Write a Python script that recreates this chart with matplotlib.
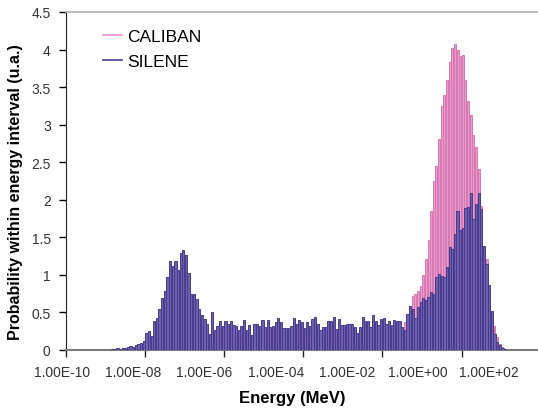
import matplotlib
matplotlib.use("Agg")
from matplotlib import pyplot as plt
from matplotlib.lines import Line2D
import numpy as np

plt.rcParams['font.family'] = ['Liberation Sans', 'DejaVu Sans']

# energy bins: 15 per decade starting at 1e-10 MeV (category axis)
n_bins = 179

silene_start = 17
silene = [0.01, 0.01, 0.02, 0.01, 0.03, 0.03, 0.04, 0.05, 0.04, 0.06,
          0.08, 0.09, 0.12, 0.22, 0.25, 0.18, 0.39, 0.43, 0.54, 0.69,
          0.78, 0.97, 1.18, 1.12, 1.18, 1.07, 1.29, 1.33, 1.26, 1.02,
          0.75, 0.75, 0.68, 0.55, 0.46, 0.41, 0.35, 0.21, 0.50, 0.26,
          0.32, 0.38, 0.32, 0.38, 0.35, 0.38, 0.33, 0.32, 0.26, 0.32,
          0.40, 0.26, 0.33, 0.20, 0.35, 0.35, 0.32, 0.40, 0.30, 0.40,
          0.31, 0.32, 0.37, 0.42, 0.37, 0.29, 0.29, 0.29, 0.32, 0.42,
          0.35, 0.40, 0.37, 0.29, 0.37, 0.32, 0.41, 0.44, 0.35, 0.26,
          0.31, 0.31, 0.38, 0.38, 0.44, 0.28, 0.41, 0.33, 0.33, 0.35,
          0.35, 0.35, 0.30, 0.23, 0.31, 0.44, 0.39, 0.39, 0.31, 0.47,
          0.38, 0.33, 0.41, 0.42, 0.35, 0.38, 0.33, 0.40, 0.39, 0.39,
          0.30, 0.26, 0.48, 0.58, 0.55, 0.42, 0.57, 0.64, 0.69, 0.66,
          0.70, 0.77, 0.74, 0.97, 1.01, 0.98, 0.97, 1.11, 1.37, 1.35,
          1.54, 1.85, 1.60, 1.62, 1.89, 1.90, 2.09, 1.74, 1.94, 2.09,
          1.88, 1.39, 1.15, 0.86, 0.52, 0.21, 0.10, 0.07, 0.03, 0.01]

caliban_start = 120
caliban = [0.05, 0.07, 0.09, 0.12, 0.16, 0.20, 0.25, 0.30, 0.37, 0.45,
           0.55, 0.72, 0.75, 0.78, 0.85, 1.00, 1.21, 1.46, 1.85, 2.25,
           2.45, 2.81, 3.25, 3.39, 3.60, 3.84, 4.02, 4.07, 4.00, 3.92,
           3.93, 3.59, 3.32, 3.13, 2.86, 2.70, 2.41, 1.92, 1.39, 1.21,
           0.68, 0.50, 0.32, 0.17, 0.08, 0.04]

xlabels = ['1.00E-10', '1.00E-08', '1.00E-06', '1.00E-04',
           '1.00E-02', '1.00E+00', '1.00E+02']

x_sil = silene_start + np.arange(len(silene))
x_cal = caliban_start + np.arange(len(caliban))

fig = plt.figure(figsize=(5.38, 4.10), dpi=100)
ax = fig.add_axes([66/538, 59/410, 472/538, 338/410])

ax.bar(x_cal, caliban, width=0.75, color='#e99bcb', edgecolor='#d877b3',
       linewidth=0.7, zorder=2)
ax.bar(x_sil, silene, width=0.85, color='#6f60ae', edgecolor='#483b8c',
       linewidth=0.7, zorder=3)

ax.set_xlim(-0.5, n_bins - 0.5)
ax.set_ylim(0, 4.5)

yt = np.arange(0, 4.51, 0.5)
ax.set_yticks(yt)
ax.set_yticklabels(['%g' % v for v in yt])
ax.tick_params(axis='y', direction='out', length=5, width=1, pad=6,
               labelsize=10, labelcolor='#333333')

ax.set_xticks(np.arange(-0.5, n_bins, 30))
ax.set_xticklabels([])
ax.tick_params(axis='x', direction='out', length=5, width=1, color='#222222')
for k, lab in enumerate(xlabels):
    ax.text(-2 + 27 * k, -0.066, lab, transform=ax.get_xaxis_transform(),
            ha='center', va='center', fontsize=10, color='#333333',
            clip_on=False)

ax.spines['right'].set_visible(False)
ax.spines['top'].set_color('#b0b0b0')
ax.spines['top'].set_linewidth(1.2)
ax.spines['left'].set_color('#222222')
ax.spines['bottom'].set_color('#7a7a7a')
ax.spines['bottom'].set_linewidth(1.5)

ax.set_xlabel('Energy (MeV)', fontsize=12, fontweight='bold')
ax.xaxis.set_label_coords(0.48, -0.118)
ax.set_ylabel('Probability within energy interval (u.a.)', fontsize=11.5,
              fontweight='bold')
ax.yaxis.set_label_coords(-0.092, 0.47)

handles = [Line2D([], [], color='#e99bcb', lw=1.3),
           Line2D([], [], color='#5b4c9c', lw=1.3)]
ax.legend(handles, ['CALIBAN', 'SILENE'], loc='upper left',
          bbox_to_anchor=(0.045, 0.995), frameon=False, fontsize=12.5,
          handlelength=1.1, handletextpad=0.3, labelspacing=0.55)

fig.savefig('out.png', dpi=100)
